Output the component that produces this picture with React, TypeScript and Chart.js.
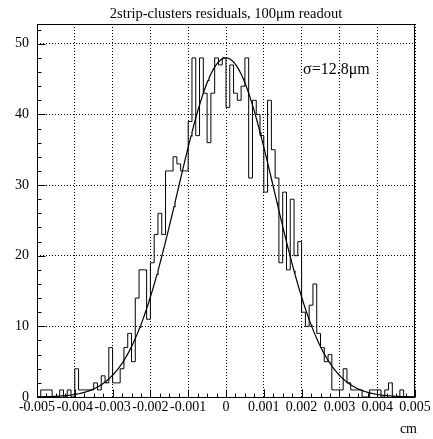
import { useEffect, useRef } from 'react';
import { Chart, registerables } from 'chart.js';

Chart.register(...registerables);

// ---- data ----
const X_MIN = -0.005;
const X_MAX = 0.005;
const BIN_COUNTS = [
  0, 1, 1, 1, 0, 0, 1, 0, 1, 0,
  4, 1, 1, 1, 1, 2, 1, 3, 2, 7,
  2, 2, 4, 7, 9, 5, 14, 18, 18, 11,
  19, 23, 26, 23, 32, 32, 34, 33, 32, 32,
  39, 48, 37, 48, 43, 36, 43, 48, 47, 48,
  41, 47, 43, 42, 44, 48, 31, 42, 40, 37,
  29, 42, 35, 31, 19, 29, 18, 28, 20, 22,
  12, 10, 13, 16, 9, 7, 5, 6, 1, 1,
  1, 4, 2, 1, 1, 1, 0, 0, 1, 1,
  1, 0, 1, 2, 0, 0, 1, 0, 0, 0,
];
const X_TICKS = [-0.005, -0.004, -0.003, -0.002, -0.001, 0, 0.001, 0.002, 0.003, 0.004, 0.005];
const X_TICK_LABELS = ['-0.005', '-0.004', '-0.003', '-0.002', '-0.001', '0', '0.001', '0.002', '0.003', '0.004', '0.005'];
const Y_TICKS = [0, 10, 20, 30, 40, 50];
const Y_MAX = 52.8;
const X_MINOR_STEP = 0.00025;
const Y_MINOR_STEP = 2;
// Gaussian fit parameters
const FIT_AMPLITUDE = 48;
const FIT_MEAN = 0;
const FIT_SIGMA = 0.00128;
const TITLE = '2strip-clusters residuals, 100\u03bcm readout';
const FIT_LABEL = '\u03c3=12.8\u03bcm';
const X_UNIT = 'cm';

const FONT = "'Liberation Serif', 'DejaVu Serif', serif";

export default function App() {
  const canvasRef = useRef<HTMLCanvasElement | null>(null);

  useEffect(() => {
    const canvas = canvasRef.current;
    if (!canvas) return;

    const binWidth = (X_MAX - X_MIN) / BIN_COUNTS.length;
    const histPoints: { x: number; y: number }[] = [];
    histPoints.push({ x: X_MIN, y: BIN_COUNTS[0] });
    BIN_COUNTS.forEach((c, i) => histPoints.push({ x: X_MIN + (i + 0.5) * binWidth, y: c }));
    histPoints.push({ x: X_MAX, y: BIN_COUNTS[BIN_COUNTS.length - 1] });

    const fitPoints: { x: number; y: number }[] = [];
    const nFit = 400;
    for (let i = 0; i <= nFit; i++) {
      const x = X_MIN + ((X_MAX - X_MIN) * i) / nFit;
      const z = (x - FIT_MEAN) / FIT_SIGMA;
      fitPoints.push({ x, y: FIT_AMPLITUDE * Math.exp(-0.5 * z * z) });
    }

    const decorPlugin = {
      id: 'rootDecor',
      afterDraw(chart: any) {
        const { ctx, chartArea } = chart;
        const xs = chart.scales.x;
        const ys = chart.scales.y;
        const L = Math.round(chartArea.left) + 0.5;
        const R = Math.round(chartArea.right) - 0.5;
        const T = Math.round(chartArea.top) + 0.5;
        const B = Math.round(chartArea.bottom) + 0.5;
        ctx.save();
        ctx.strokeStyle = '#000';
        ctx.lineWidth = 1;
        ctx.strokeRect(L, T, R - L, B - T);
        ctx.beginPath();
        const nx = Math.round((X_MAX - X_MIN) / X_MINOR_STEP);
        for (let k = 0; k <= nx; k++) {
          const px = Math.round(xs.getPixelForValue(X_MIN + k * X_MINOR_STEP)) + 0.5;
          const len = k % 4 === 0 ? 8 : 4;
          ctx.moveTo(px, B);
          ctx.lineTo(px, B - len);
        }
        const ny = Math.floor(Y_MAX / Y_MINOR_STEP);
        for (let k = 0; k <= ny; k++) {
          const v = k * Y_MINOR_STEP;
          const py = Math.round(ys.getPixelForValue(v)) + 0.5;
          const len = v % 10 === 0 ? 8 : 4;
          ctx.moveTo(L, py);
          ctx.lineTo(L + len, py);
        }
        ctx.stroke();

        ctx.fillStyle = '#000';
        ctx.font = `14.5px ${FONT}`;
        ctx.textAlign = 'center';
        ctx.textBaseline = 'alphabetic';
        ctx.fillText(TITLE, (chartArea.left + chartArea.right) / 2, 18);

        ctx.font = `16px ${FONT}`;
        ctx.textAlign = 'left';
        ctx.fillText(FIT_LABEL, 303, 74);

        ctx.font = `14px ${FONT}`;
        ctx.textAlign = 'right';
        ctx.fillText(X_UNIT, 417, 433);
        ctx.restore();
      },
    };

    const chart = new Chart(canvas, {
      type: 'line',
      data: {
        datasets: [
          {
            data: histPoints,
            borderColor: '#000',
            borderWidth: 1,
            pointRadius: 0,
            stepped: 'middle',
            fill: false,
          },
          {
            data: fitPoints,
            borderColor: '#000',
            borderWidth: 1.2,
            pointRadius: 0,
            tension: 0,
            fill: false,
          },
        ],
      },
      options: {
        animation: false,
        responsive: false,
        devicePixelRatio: 1,
        layout: { padding: { left: 0, right: 18, top: 24, bottom: 12 } },
        plugins: { legend: { display: false }, tooltip: { enabled: false }, title: { display: false } },
        scales: {
          x: {
            type: 'linear',
            min: X_MIN,
            max: X_MAX,
            afterBuildTicks: (scale: any) => {
              scale.ticks = X_TICKS.map((v) => ({ value: v }));
            },
            afterFit: (scale: any) => {
              scale.height = 30;
              scale.paddingLeft = 0;
              scale.paddingRight = 0;
            },
            ticks: {
              autoSkip: false,
              maxRotation: 0,
              minRotation: 0,
              padding: 2,
              color: '#000',
              font: { family: FONT, size: 14 },
              callback: (_v: any, i: number) => X_TICK_LABELS[i],
            },
            grid: { color: '#000', lineWidth: 1, drawTicks: false },
            border: { display: false, dash: [1, 2] },
          },
          y: {
            type: 'linear',
            min: 0,
            max: Y_MAX,
            afterBuildTicks: (scale: any) => {
              scale.ticks = Y_TICKS.map((v) => ({ value: v }));
            },
            afterFit: (scale: any) => {
              scale.width = 37;
              scale.paddingTop = 0;
              scale.paddingBottom = 0;
            },
            ticks: {
              padding: 8,
              color: '#000',
              font: { family: FONT, size: 14 },
              callback: (v: any) => String(v),
            },
            grid: { color: '#000', lineWidth: 1, drawTicks: false },
            border: { display: false, dash: [1, 2] },
          },
        },
      },
      plugins: [decorPlugin],
    });

    return () => chart.destroy();
  }, []);

  return (
    <div style={{ position: 'fixed', left: 0, top: 0, width: 433, height: 439, background: '#fff' }}>
      <canvas ref={canvasRef} width={433} height={439} />
    </div>
  );
}
